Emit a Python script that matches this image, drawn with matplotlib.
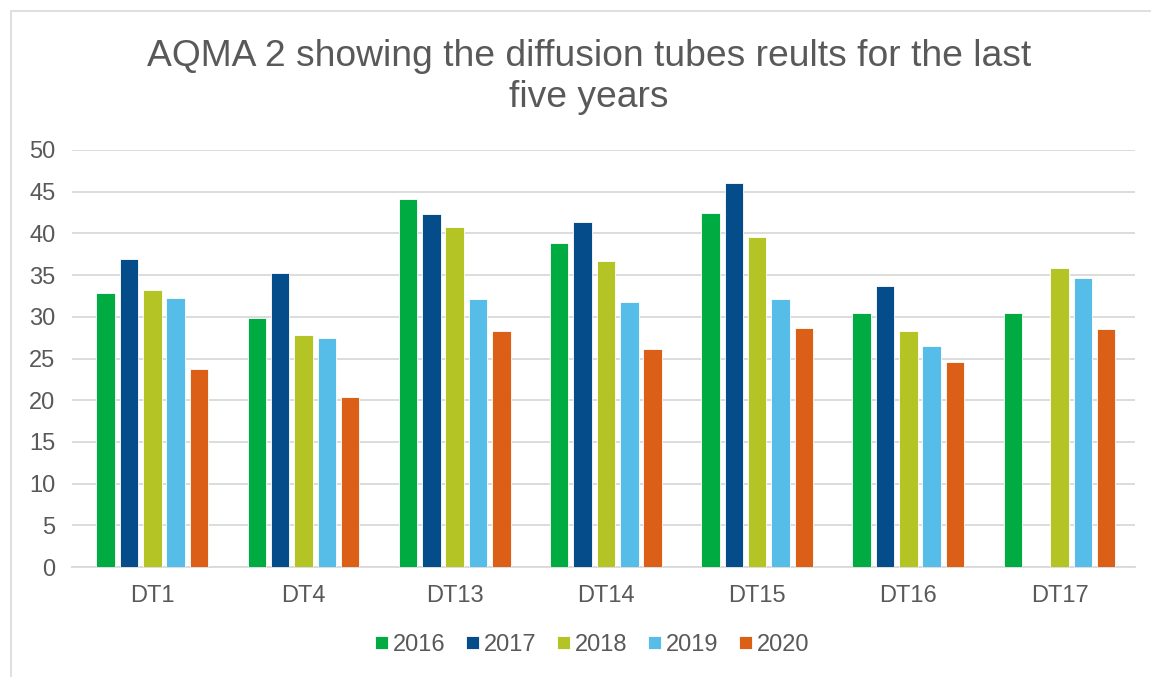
import numpy as np
import matplotlib.pyplot as plt
from matplotlib.patches import Rectangle

plt.rcParams['font.family'] = ['Liberation Sans', 'DejaVu Sans']

# diffusion tube results
sites = ['DT1', 'DT4', 'DT13', 'DT14', 'DT15', 'DT16', 'DT17']
years = ['2016', '2017', '2018', '2019', '2020']
y2016 = [32.9, 29.9, 44.1, 38.8, 42.5, 30.5, 30.5]
y2017 = [36.9, 35.3, 42.3, 41.4, 46.1, 33.7, np.nan]  # no 2017 value for DT17
y2018 = [33.2, 27.8, 40.8, 36.7, 39.6, 28.3, 35.8]
y2019 = [32.3, 27.5, 32.1, 31.8, 32.1, 26.5, 34.6]
y2020 = [23.8, 20.4, 28.3, 26.1, 28.7, 24.6, 28.5]
colors = ['#00AC41', '#054D8A', '#B4C424', '#56BCE8', '#DB5F16']

text_col = '#595959'
grid_col = '#D9D9D9'

fig = plt.figure(figsize=(11.51, 6.77), dpi=100)
ax = fig.add_axes([72 / 1151, 1 - 567 / 677, (1135 - 72) / 1151, (567 - 150) / 677])

# chart border (the outer frame of the excel chart)
fig.patches.append(Rectangle((11 / 1151, -0.1), 1.2, 1 - 11 / 677 + 0.1,
                             transform=fig.transFigure, fill=False,
                             edgecolor=grid_col, linewidth=1.2))

x = np.arange(len(sites))
step = 0.1545
width = 0.122
series = [y2016, y2017, y2018, y2019, y2020]
for i, (vals, lab, c) in enumerate(zip(series, years, colors)):
    ax.bar(x + (i - 2) * step, vals, width=width, color=c, label=lab,
           edgecolor='white', linewidth=0.6, zorder=3)

ax.set_xlim(-0.531, 6.499)
ax.set_ylim(0, 50)
ax.set_yticks(range(0, 51, 5))
ax.set_xticks(x)
ax.set_xticklabels(sites)
ax.yaxis.grid(True, color=grid_col, linewidth=1.3, zorder=0)
ax.set_axisbelow(True)
for s in ['top', 'right', 'left']:
    ax.spines[s].set_visible(False)
ax.spines['bottom'].set_color(grid_col)
ax.spines['bottom'].set_linewidth(1.3)
ax.tick_params(axis='both', length=0, labelsize=17, labelcolor=text_col)
ax.tick_params(axis='x', pad=13)
ax.tick_params(axis='y', pad=12)

fig.text(589 / 1151, 1 - 77 / 677,
         'AQMA 2 showing the diffusion tubes reults for the last\nfive years',
         ha='center', va='center', fontsize=26.8, color=text_col, linespacing=1.2)

leg = fig.legend(loc='center', bbox_to_anchor=(592 / 1151, 1 - 645 / 677), ncol=5,
                 frameon=False, fontsize=17, handlelength=0.55, handleheight=0.47,
                 handletextpad=0.2, columnspacing=0.88, borderaxespad=0)
for t in leg.get_texts():
    t.set_color(text_col)

fig.savefig('out.png', dpi=100)
